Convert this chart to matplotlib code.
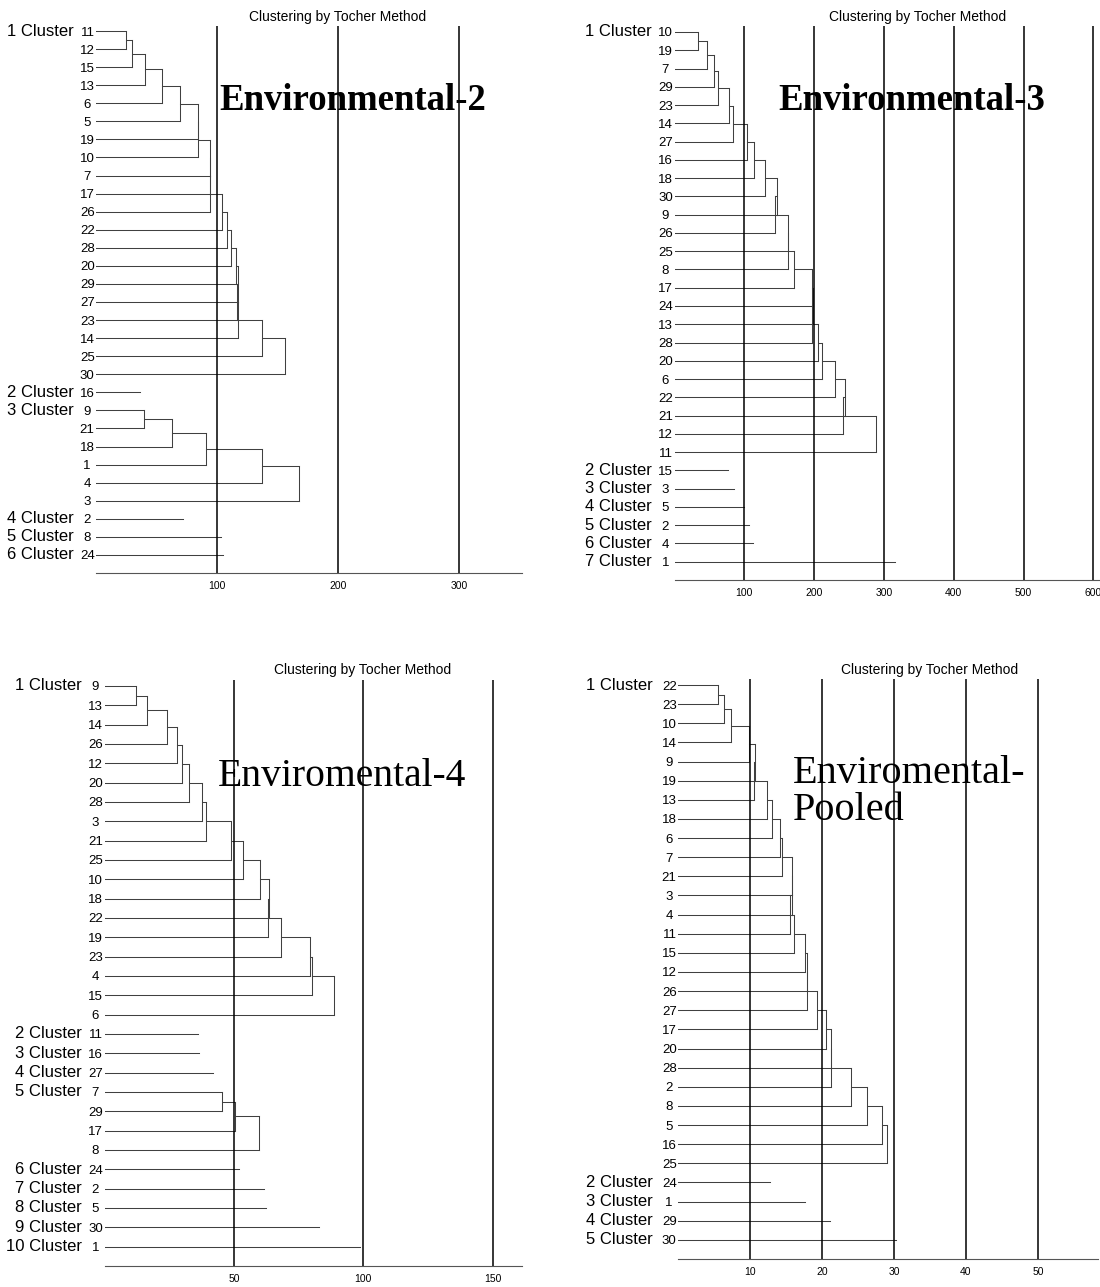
import matplotlib
matplotlib.use('Agg')
import matplotlib.pyplot as plt
from matplotlib import font_manager

# fonts: narrow sans for the cluster / genotype labels if we have it
_names = {f.name for f in font_manager.fontManager.ttflist}
NARROW = 'Liberation Sans Narrow' if 'Liberation Sans Narrow' in _names else 'Liberation Sans'
CL_SIZE = 13 if NARROW == 'Liberation Sans Narrow' else 12

# ---- data ----
# leaf order top to bottom, cluster sizes, and the height where each leaf joins
# (first leaf of a multi-leaf cluster repeats the height of the first pair)
env2_leaves = [11, 12, 15, 13, 6, 5, 19, 10, 7, 17, 26, 22, 28, 20, 29, 27, 23, 14, 25, 30,
               16, 9, 21, 18, 1, 4, 3, 2, 8, 24]
env2_sizes = [20, 1, 6, 1, 1, 1]
env2_joins = [25, 25, 29.5, 40.5, 54.5, 69.5, 84, 84, 94, 94, 94, 104, 108, 111.5, 116, 117.5,
              116.5, 117, 137, 156,
              36, 40, 40, 63, 90.5, 137, 168, 72, 103, 104.7]
env2_ticks = [100, 200, 300]

env3_leaves = [10, 19, 7, 29, 23, 14, 27, 16, 18, 30, 9, 26, 25, 8, 17, 24, 13, 28, 20, 6, 22, 21,
               12, 11, 15, 3, 5, 2, 4, 1]
env3_sizes = [24, 1, 1, 1, 1, 1, 1]
env3_joins = [33, 33, 46.5, 57, 62, 78, 84, 103.5, 113.5, 129.5, 146.5, 144, 162, 163, 171, 197.5,
              198, 197.5, 206, 212, 230, 244.5, 242, 289,
              76, 85.5, 100, 107, 113, 316]
env3_ticks = [100, 200, 300, 400, 500, 600]

env4_leaves = [9, 13, 14, 26, 12, 20, 28, 3, 21, 25, 10, 18, 22, 19, 23, 4, 15, 6,
               11, 16, 27, 7, 29, 17, 8, 24, 2, 5, 30, 1]
env4_sizes = [18, 1, 1, 1, 4, 1, 1, 1, 1, 1]
env4_joins = [12, 12, 16.5, 24, 28, 30, 32.5, 37.5, 39, 49, 53.5, 60, 63.5, 63, 68, 79.5, 80, 88.5,
              36.2, 36.6, 41.8, 45.2, 45.2, 50.5, 59.8, 52, 61.7, 62.5, 82.8, 98.6]
env4_ticks = [50, 100, 150]

pooled_leaves = [22, 23, 10, 14, 9, 19, 13, 18, 6, 7, 21, 3, 4, 11, 15, 12, 26, 27, 17, 20, 28,
                 2, 8, 5, 16, 25, 24, 1, 29, 30]
pooled_sizes = [26, 1, 1, 1, 1]
pooled_joins = [5.6, 5.6, 6.4, 7.4, 9.9, 10.7, 10.6, 12.3, 13.1, 14.2, 14.4, 15.9, 15.8, 15.6,
                16.1, 17.6, 17.9, 17.9, 19.3, 20.6, 21.3, 21.3, 24.0, 26.2, 28.4, 29.0,
                12.8, 17.6, 21.1, 30.3]
pooled_ticks = [10, 20, 30, 40, 50]

W, H = 1100, 1287
fig = plt.figure(figsize=(W / 100, H / 100), dpi=100)

LINE = '#404040'


def draw_panel(leaves, sizes, joins, ticks, box, label_dx):
    # box: pixel x of zero, px per unit, right end px, top px, baseline px, first row px
    x0, ppu, xr, top, base, row0 = box
    n = len(leaves)
    sp = (base - row0) / n
    ax = fig.add_axes([x0 / W, 1 - base / H, (xr - x0) / W, (base - top) / H])
    ax.set_xlim(0, (xr - x0) / ppu)
    ax.set_ylim(n, (top - row0) / sp)

    for t in ticks:
        ax.axvline(t, color='black', lw=1.1, zorder=3)

    s = 0
    for c, m in enumerate(sizes):
        if m == 1:
            ax.plot([0, joins[s]], [s, s], color=LINE, lw=0.75)
        else:
            node_y, node_h = s, 0
            for k in range(s + 1, s + m):
                h = joins[k]
                ax.plot([node_h, h], [node_y, node_y], color=LINE, lw=0.75)
                ax.plot([0, h], [k, k], color=LINE, lw=0.75)
                ax.plot([h, h], [node_y, k], color=LINE, lw=0.75)
                node_y, node_h = (node_y + k) / 2, h
        ax.annotate(f'{c + 1} Cluster', xy=(0, s), xycoords='data',
                    xytext=(-label_dx, 0), textcoords='offset pixels',
                    ha='right', va='center', fontsize=CL_SIZE, family=NARROW)
        s += m

    for side in ['left', 'top', 'right']:
        ax.spines[side].set_visible(False)
    ax.spines['bottom'].set_color('#555555')
    ax.spines['bottom'].set_linewidth(0.8)
    ax.set_xticks(ticks)
    ax.set_xticklabels([str(t) for t in ticks], fontsize=7.5, family='Liberation Sans')
    ax.tick_params(axis='x', length=0, pad=6)
    ax.set_yticks(range(n))
    ax.set_yticklabels([f'{v} ' if v < 10 else str(v) for v in leaves],
                       fontsize=9.5, family=NARROW)
    ax.tick_params(axis='y', length=0, pad=1)
    return ax


draw_panel(env2_leaves, env2_sizes, env2_joins, env2_ticks,
           (96, 1.21, 522, 26, 573, 31), 22)
draw_panel(env3_leaves, env3_sizes, env3_joins, env3_ticks,
           (674.5, 0.698, 1100, 26, 580, 32), 23)
draw_panel(env4_leaves, env4_sizes, env4_joins, env4_ticks,
           (104.7, 2.586, 522, 680, 1266, 686), 23)
draw_panel(pooled_leaves, pooled_sizes, pooled_joins, pooled_ticks,
           (678, 7.2, 1098, 679, 1259, 685), 25)

# titles
for tx, ty in [(338, 17), (918, 17), (363, 670), (930, 670)]:
    fig.text(tx / W, 1 - ty / H, 'Clustering by Tocher Method', ha='center', va='center',
             fontsize=10, family='Liberation Sans')

fig.text(219 / W, 1 - 100 / H, 'Environmental-2', ha='left', va='center',
         fontsize=26.5, family='Liberation Serif', weight='bold', zorder=5)
fig.text(778 / W, 1 - 100 / H, 'Environmental-3', ha='left', va='center',
         fontsize=26.5, family='Liberation Serif', weight='bold', zorder=5)
fig.text(218 / W, 1 - 776 / H, 'Enviromental-4', ha='left', va='center',
         fontsize=28.5, family='Liberation Serif', zorder=5)
fig.text(793 / W, 1 - 792 / H, 'Enviromental-\nPooled', ha='left', va='center',
         fontsize=29, family='Liberation Serif', linespacing=1.0, zorder=5)

fig.savefig('out.png', dpi=100, facecolor='white')
plt.close(fig)
